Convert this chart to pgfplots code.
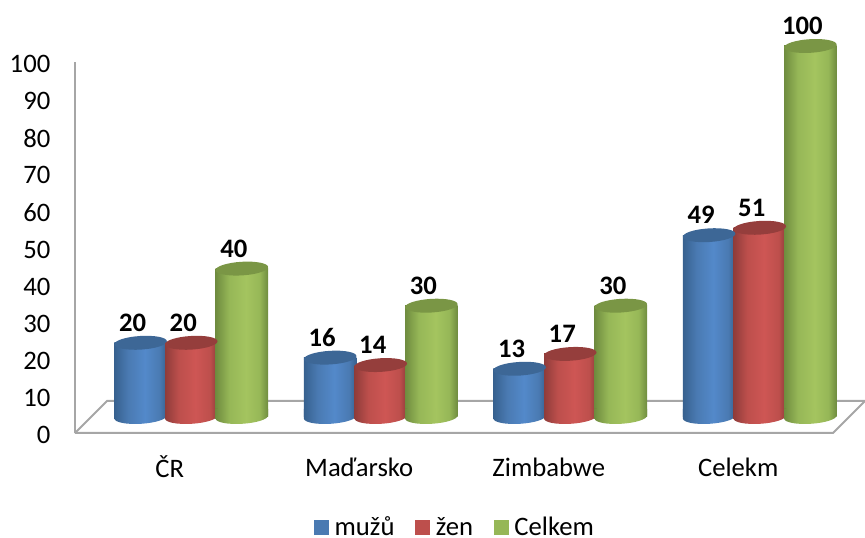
\documentclass[border=0pt]{standalone}
\usepackage{fontspec}
\setmainfont{Carlito}
\usepackage{pgfplots}
\pgfplotsset{compat=1.18}
\usepackage{pgfplotstable}

% one drawing unit: the page is 865 by 538 of these
\newlength{\px}\setlength{\px}{0.75pt}

\definecolor{cblueD}{HTML}{37618F}
\definecolor{cblueM}{HTML}{4A7AB2}
\definecolor{cblueL}{HTML}{5389CA}
\definecolor{cblueT}{HTML}{3D6796}
\definecolor{credD}{HTML}{8F3C3A}
\definecolor{credM}{HTML}{BD4F4C}
\definecolor{credL}{HTML}{CE5654}
\definecolor{credT}{HTML}{953E3C}
\definecolor{cgreenD}{HTML}{6F8C3F}
\definecolor{cgreenM}{HTML}{96B757}
\definecolor{cgreenL}{HTML}{A4C45F}
\definecolor{cgreenT}{HTML}{7A9645}
\definecolor{wall}{HTML}{A6A6A6}

\pgfdeclarehorizontalshading{cylblue}{100bp}{color(0bp)=(cblueD); color(25bp)=(cblueD); color(38bp)=(cblueM); color(54bp)=(cblueL); color(68bp)=(cblueM); color(75bp)=(cblueD); color(100bp)=(cblueD)}
\pgfdeclarehorizontalshading{cylred}{100bp}{color(0bp)=(credD); color(25bp)=(credD); color(38bp)=(credM); color(54bp)=(credL); color(68bp)=(credM); color(75bp)=(credD); color(100bp)=(credD)}
\pgfdeclarehorizontalshading{cylgreen}{100bp}{color(0bp)=(cgreenD); color(25bp)=(cgreenD); color(38bp)=(cgreenM); color(54bp)=(cgreenL); color(67bp)=(cgreenM); color(75bp)=(cgreenD); color(100bp)=(cgreenD)}

% upper face of a cylinder: a slightly tilted ellipse
\pgfdeclareplotmark{captop}{%
  \pgfpathellipse{\pgfpointorigin}{\pgfpoint{26.25\px}{1.6\px}}{\pgfpoint{-0.4\px}{6.8\px}}%
  \pgfusepathqfill}
% rounded foot of a cylinder, carrying the shading of the body
\newcommand{\footpath}{%
  \pgfpathmoveto{\pgfpoint{-26.25\px}{8\px}}%
  \pgfpathlineto{\pgfpoint{-26.25\px}{-1.6\px}}%
  \pgfpathcurveto{\pgfpoint{-26.03\px}{-5.36\px}}{\pgfpoint{-14.1\px}{-7.68\px}}{\pgfpoint{0.4\px}{-6.8\px}}%
  \pgfpathcurveto{\pgfpoint{14.9\px}{-5.92\px}}{\pgfpoint{26.47\px}{-2.16\px}}{\pgfpoint{26.25\px}{1.6\px}}%
  \pgfpathlineto{\pgfpoint{26.25\px}{8\px}}%
  \pgfpathclose}
\pgfdeclareplotmark{footblue}{\footpath\pgfshadepath{cylblue}{0}\pgfusepath{discard}}
\pgfdeclareplotmark{footred}{\footpath\pgfshadepath{cylred}{0}\pgfusepath{discard}}
\pgfdeclareplotmark{footgreen}{\footpath\pgfshadepath{cylgreen}{0}\pgfusepath{discard}}

\pgfplotstableread{
idx muzu zen celkem
0   20   20  40
1   16   14  30
2   13   17  30
3   49   51  100
}\people

\pgfplotsset{
  depth shift/.style={xshift=21.5\px, yshift=16\px, forget plot},
  cylinder body/.style={ybar, bar width=52.5\px, bar shift=0pt, draw=none, shade, shading=#1,
    shading angle=0, depth shift},
  cylinder foot/.style={only marks, mark=#1, y filter/.expression={0}, depth shift},
  cylinder top/.style={only marks, mark=captop, color=#1, depth shift,
    nodes near coords={\textbf{\pgfmathprintnumber[assume math mode=true]{\pgfplotspointmeta}}},
    nodes near coords style={font=\fontsize{20}{20}\selectfont, text=black, anchor=center,
      xshift=-8\px, yshift=20\px}},
}

\begin{document}
\begin{tikzpicture}[x=\px,y=\px]
\path[use as bounding box] (0,0) rectangle (865,538);
\begin{axis}[
  at={(75\px,105\px)}, anchor=south west,
  scale only axis, width=758\px, height=371\px,
  xmin=-0.5, xmax=3.5, ymin=0, ymax=100,
  axis x line=none, axis y line=left, axis line style={wall, line width=2\px, -},
  ytick={0,10,...,100},
  y tick style={draw=none},
  major tick length=0pt,
  y tick label style={font=\fontsize{20}{20}\selectfont, xshift=-20\px, yshift=-2\px},
  /pgf/number format/assume math mode=true,
  clip=false,
  legend columns=3,
  legend cell align=left,
  legend style={at={(rel axis cs:0.3153,-0.2535)}, anchor=west, draw=none, fill=none,
    font=\fontsize{20}{20}\selectfont, inner sep=0pt, outer sep=0pt,
    /tikz/every even column/.append style={column sep=18\px}},
  legend image code/.code={\fill[#1, draw=none] (0,-7.5\px) rectangle (15\px,7.5\px);\path[draw=none, fill=none] (0,0) -- (18\px,0);},
]
% floor and back wall
\draw[wall, line width=2\px] (axis cs:-0.5,0) -- (axis cs:3.5,0) -- ++(32\px,32\px);
\draw[wall, line width=2\px] (axis cs:-0.5,0) -- ++(32\px,32\px) -- ++(758\px,0);

% category names along the front edge of the floor
\node[font=\fontsize{20}{20}\selectfont] at (axis cs:0,0) [yshift=-34\px] {ČR};
\node[font=\fontsize{20}{20}\selectfont] at (axis cs:1,0) [yshift=-34\px] {Maďarsko};
\node[font=\fontsize{20}{20}\selectfont] at (axis cs:2,0) [yshift=-34\px] {Zimbabwe};
\node[font=\fontsize{20}{20}\selectfont] at (axis cs:3,0) [yshift=-34\px] {Celekm};

% every cylinder is plotted on its own so that each gets its own shading
\pgfplotsinvokeforeach{0,1,2,3}{
  \addplot[cylinder body=cylblue, restrict expr to domain={\coordindex}{#1:#1}]
    table[x expr=\thisrow{idx}-0.267,y=muzu] {\people};
  \addplot[cylinder foot=footblue, restrict expr to domain={\coordindex}{#1:#1}]
    table[x expr=\thisrow{idx}-0.267,y=muzu] {\people};
  \addplot[cylinder top=cblueT, restrict expr to domain={\coordindex}{#1:#1}]
    table[x expr=\thisrow{idx}-0.267,y=muzu] {\people};
  \addplot[cylinder body=cylred, restrict expr to domain={\coordindex}{#1:#1}]
    table[x expr=\thisrow{idx},y=zen] {\people};
  \addplot[cylinder foot=footred, restrict expr to domain={\coordindex}{#1:#1}]
    table[x expr=\thisrow{idx},y=zen] {\people};
  \addplot[cylinder top=credT, restrict expr to domain={\coordindex}{#1:#1}]
    table[x expr=\thisrow{idx},y=zen] {\people};
  \addplot[cylinder body=cylgreen, restrict expr to domain={\coordindex}{#1:#1}]
    table[x expr=\thisrow{idx}+0.267,y=celkem] {\people};
  \addplot[cylinder foot=footgreen, restrict expr to domain={\coordindex}{#1:#1}]
    table[x expr=\thisrow{idx}+0.267,y=celkem] {\people};
  \addplot[cylinder top=cgreenT, restrict expr to domain={\coordindex}{#1:#1}]
    table[x expr=\thisrow{idx}+0.267,y=celkem] {\people};
}

\addlegendimage{fill=cblueM}
\addlegendentry{mužů}
\addlegendimage{fill=credM}
\addlegendentry{žen}
\addlegendimage{fill=cgreenM}
\addlegendentry{Celkem}
\end{axis}
\end{tikzpicture}
\end{document}
